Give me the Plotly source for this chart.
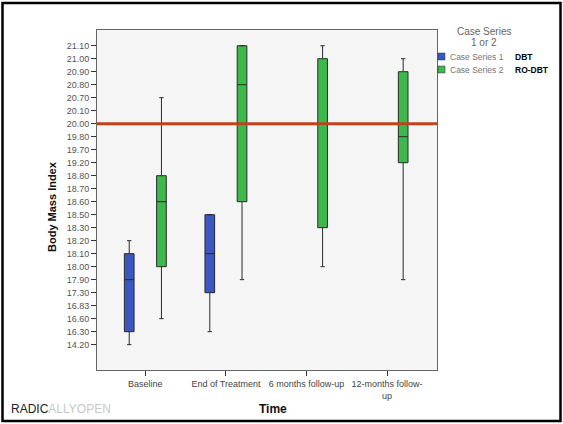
import plotly.graph_objects as go

# ---------------- data ----------------
categories = ["Baseline", "End of Treatment", "6 months follow-up", "12-months follow-up"]
category_labels = ["Baseline", "End of Treatment", "6 months follow-up", "12-months follow-<br>up"]

# SPSS treated BMI as ordinal: ticks are the distinct observed values (top to bottom)
bmi_ticks = ["21.10", "21.00", "20.90", "20.80", "20.70", "20.10", "20.00", "19.80",
             "19.70", "19.20", "18.80", "18.70", "18.60", "18.50", "18.30", "18.20",
             "18.10", "18.00", "17.90", "17.30", "16.83", "16.60", "16.30", "14.20"]

# DBT (Case Series 1)
dbt_x = ["Baseline", "End of Treatment"]
dbt_low = ["14.20", "16.30"]
dbt_q1 = ["16.30", "17.30"]
dbt_med = ["17.90", "18.10"]
dbt_q3 = ["18.10", "18.50"]
dbt_high = ["18.20", "18.50"]

# RO-DBT (Case Series 2)
ro_x = categories
ro_low = ["16.60", "17.90", "18.00", "17.90"]
ro_q1 = ["18.00", "18.60", "18.30", "19.20"]
ro_med = ["18.60", "20.80", "20.00", "19.80"]
ro_q3 = ["18.80", "21.10", "21.00", "20.90"]
ro_high = ["20.70", "21.10", "21.10", "21.00"]

reference_bmi = "20.00"

# ---------------- ordinal scale ----------------
n = len(bmi_ticks)
def pos(v):
    return n - 1 - bmi_ticks.index(v)

def mp(lst):
    return [pos(v) for v in lst]

BLUE = "#3a57c4"
GREEN = "#3cb94a"
LINE = "#2a2a2a"

fig = go.Figure()
fig.add_trace(go.Box(
    x=dbt_x, q1=mp(dbt_q1), median=mp(dbt_med), q3=mp(dbt_q3),
    lowerfence=mp(dbt_low), upperfence=mp(dbt_high),
    name="DBT", fillcolor=BLUE, line=dict(color=LINE, width=1),
    whiskerwidth=0.45, showlegend=False, hoverinfo="skip"))
fig.add_trace(go.Box(
    x=ro_x, q1=mp(ro_q1), median=mp(ro_med), q3=mp(ro_q3),
    lowerfence=mp(ro_low), upperfence=mp(ro_high),
    name="RO-DBT", fillcolor=GREEN, line=dict(color=LINE, width=1),
    whiskerwidth=0.45, showlegend=False, hoverinfo="skip"))

W, H = 563, 424
L, R, T, B = 97, 437, 30, 370
pw, ph = R - L, B - T

def px_x(x):
    return (x - L) / pw

def px_y(y):
    return (B - y) / ph

fig.update_layout(
    width=W, height=H,
    margin=dict(l=L, r=W - R, t=T, b=H - B),
    paper_bgcolor="white", plot_bgcolor="#f5f5f5",
    boxmode="group", boxgap=0.2, boxgroupgap=0.7,
    font=dict(family="Liberation Sans, Arial, sans-serif", size=9, color="#444"),
    xaxis=dict(
        type="category", categoryorder="array", categoryarray=categories,
        tickvals=categories, ticktext=category_labels,
        range=[-0.6, 3.62], showgrid=False, zeroline=False,
        showline=True, linecolor="#666", linewidth=1, mirror=True,
        ticks="outside", ticklen=5, tickcolor="#333",
        tickfont=dict(size=9, color="#444")),
    yaxis=dict(
        range=[-1.95, 24.21], tickvals=list(range(n)),
        ticktext=list(reversed(bmi_ticks)),
        showgrid=False, zeroline=False,
        showline=True, linecolor="#666", linewidth=1, mirror=True,
        ticks="outside", ticklen=5, tickcolor="#333",
        tickfont=dict(size=9, color="#555")),
)

shapes = [
    # reference line
    dict(type="line", xref="paper", yref="y", x0=0, x1=1,
         y0=pos(reference_bmi), y1=pos(reference_bmi),
         line=dict(color="#c4401c", width=3)),
    # outer frame
    dict(type="rect", xref="paper", yref="paper",
         x0=px_x(2.5), x1=px_x(560.5), y0=px_y(421), y1=px_y(3),
         line=dict(color="black", width=2.5), layer="below"),
    # legend swatches
    dict(type="rect", xref="paper", yref="paper",
         x0=px_x(438), x1=px_x(445), y0=px_y(60), y1=px_y(53),
         fillcolor=BLUE, line=dict(color="#333", width=0.5)),
    dict(type="rect", xref="paper", yref="paper",
         x0=px_x(438), x1=px_x(445), y0=px_y(73), y1=px_y(66),
         fillcolor=GREEN, line=dict(color="#333", width=0.5)),
]
fig.update_layout(shapes=shapes)

ann = [
    dict(text="Case Series", x=px_x(484), y=px_y(32), xanchor="center", yanchor="middle",
         font=dict(size=10, color="#666")),
    dict(text="1 or 2", x=px_x(484), y=px_y(43), xanchor="center", yanchor="middle",
         font=dict(size=10, color="#666")),
    dict(text="Case Series 1", x=px_x(448), y=px_y(57), xanchor="left", yanchor="middle",
         font=dict(size=8.5, color="#777")),
    dict(text="<b>DBT</b>", x=px_x(513), y=px_y(57), xanchor="left", yanchor="middle",
         font=dict(size=8.5, color="black")),
    dict(text="Case Series 2", x=px_x(448), y=px_y(70), xanchor="left", yanchor="middle",
         font=dict(size=8.5, color="#777")),
    dict(text="<b>RO-DBT</b>", x=px_x(513), y=px_y(70), xanchor="left", yanchor="middle",
         font=dict(size=8.5, color="black")),
    dict(text="<b>Body Mass Index</b>", x=px_x(52), y=px_y(207), textangle=-90,
         xanchor="center", yanchor="middle", font=dict(size=11, color="#111")),
    dict(text="<b>Time</b>", x=px_x(273), y=px_y(409), xanchor="center", yanchor="middle",
         font=dict(size=12, color="#111")),
    dict(text="RADIC<span style='color:#c8c8c8'>ALLYOPEN</span>", x=px_x(9), y=px_y(409),
         xanchor="left", yanchor="middle", font=dict(size=12, color="#222")),
]
for a in ann:
    a.update(xref="paper", yref="paper", showarrow=False)
fig.update_layout(annotations=ann)

fig.write_html(
    "out.html",
    config={"displayModeBar": False},
    post_script="document.body.style.margin='0';document.body.style.padding='0';"
                "document.body.style.overflow='hidden';",
)
